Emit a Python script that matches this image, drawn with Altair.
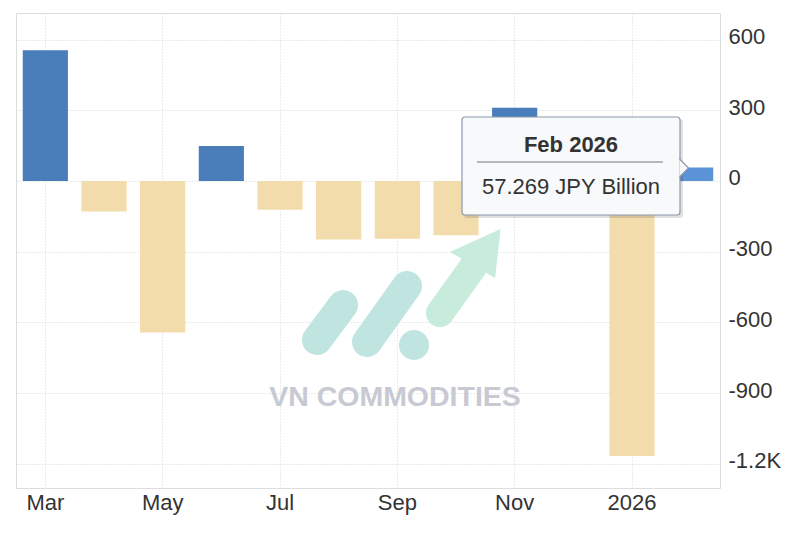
import altair as alt
import pandas as pd

# ---- data ----
months = ["Mar 2025", "Apr 2025", "May 2025", "Jun 2025", "Jul 2025", "Aug 2025",
          "Sep 2025", "Oct 2025", "Nov 2025", "Dec 2025", "Jan 2026", "Feb 2026"]
values = [555, -130, -643, 149, -122, -248, -245, -230, 311, 105.7, -1167, 57.269]
tick_months = ["Mar 2025", "May 2025", "Jul 2025", "Sep 2025", "Nov 2025", "Jan 2026"]
y_ticks = [-1200, -900, -600, -300, 0, 300, 600]
highlight = "Feb 2026"
unit = "JPY Billion"
watermark = "VN COMMODITIES"

df = pd.DataFrame({"month": months, "value": values})

W, H = 704, 475
FONT = "Liberation Sans"
TXT = "#333333"
GRID = "#d4d4d4"

x = alt.X(
    "month:N", sort=months,
    scale=alt.Scale(paddingInner=0.23, paddingOuter=0.115),
    axis=alt.Axis(values=tick_months,
                  labelExpr="datum.value == 'Jan 2026' ? '2026' : slice(datum.value, 0, 3)",
                  bandPosition=0.5, grid=True, gridDash=[1, 2], gridColor=GRID,
                  ticks=False, domainColor="#dddddd", labelFontSize=22, labelColor=TXT,
                  labelFont=FONT, labelPadding=4, labelAngle=0, title=None),
)
y = alt.Y(
    "value:Q",
    scale=alt.Scale(domain=[-1303, 713], nice=False, zero=False),
    axis=alt.Axis(orient="right", values=y_ticks,
                  labelExpr="datum.value <= -1000 ? '-' + (abs(datum.value)/1000) + 'K' : (datum.value < 0 ? '-' + abs(datum.value) : '' + datum.value)",
                  grid=True, gridDash=[1, 2], gridColor=GRID, ticks=False, domain=False,
                  labelFontSize=22, labelColor=TXT, labelFont=FONT, labelPadding=8,
                  labelOffset=-3, title=None),
)

one = alt.Data(values=[{}])

# ---- watermark ----
pill_a = alt.Chart(one).mark_rule(strokeCap="round", strokeWidth=30, color="#c0e4df").encode(
    x=alt.value(301), y=alt.value(327), x2=alt.value(327), y2=alt.value(292))
pill_b = alt.Chart(one).mark_rule(strokeCap="round", strokeWidth=30, color="#c0e4df").encode(
    x=alt.value(351), y=alt.value(329), x2=alt.value(391), y2=alt.value(273))
dot = alt.Chart(one).mark_point(shape="circle", filled=True, size=900, opacity=1, color="#c0e4df").encode(
    x=alt.value(398), y=alt.value(332))
shaft = alt.Chart(one).mark_rule(strokeCap="round", strokeWidth=28, color="#c7ecdc").encode(
    x=alt.value(424), y=alt.value(300), x2=alt.value(457), y2=alt.value(254))
head = alt.Chart(one).mark_point(shape="M0.58,-0.75L0.41,0.78L-1,-0.03Z", filled=True, size=4096,
                                 opacity=1, color="#c7ecdc").encode(
    x=alt.value(466), y=alt.value(240))
wm_text = alt.Chart(one).mark_text(text=watermark, font=FONT, fontSize=28.5, fontWeight="bold",
                                   color="#c7cad2").encode(x=alt.value(379), y=alt.value(384))

# ---- bars ----
bars = alt.Chart(df).transform_calculate(
    kind=f"datum.month == '{highlight}' ? 'hl' : (datum.value >= 0 ? 'pos' : 'neg')"
).mark_bar().encode(
    x=x, y=y, y2=alt.datum(0),
    color=alt.Color("kind:N", scale=alt.Scale(domain=["pos", "neg", "hl"],
                                              range=["#4a7ebb", "#f3dcab", "#5b93d8"]),
                    legend=None),
)

# ---- tooltip ----
shadow = alt.Chart(one).mark_rect(fill="#000000", opacity=0.12, cornerRadius=3).encode(
    x=alt.value(448), x2=alt.value(667), y=alt.value(106), y2=alt.value(205))
box = alt.Chart(one).mark_rect(fill="#f7f9fb", stroke="#8c99ab", strokeWidth=1.2, cornerRadius=3).encode(
    x=alt.value(446), x2=alt.value(664), y=alt.value(104), y2=alt.value(202))
pointer = alt.Chart(one).mark_point(shape="M0,-1L1,0L0,1", filled=False, fill="#f7f9fb",
                                    stroke="#8c99ab", strokeWidth=1.2, size=324, opacity=1).encode(
    x=alt.value(663.5), y=alt.value(155))
sep = alt.Chart(one).mark_rule(color="#777777", strokeWidth=1).encode(
    x=alt.value(461), x2=alt.value(647), y=alt.value(149))
hl = alt.Chart(df).transform_filter(f"datum.month == '{highlight}'").transform_calculate(
    label=f"datum.value + ' {unit}'")
t_title = hl.mark_text(font=FONT, fontSize=22, fontWeight="bold", color=TXT).encode(
    x=alt.value(555), y=alt.value(132), text="month:N")
t_value = hl.mark_text(font=FONT, fontSize=22, color=TXT).encode(
    x=alt.value(555), y=alt.value(174), text="label:N")

chart = alt.layer(
    pill_a, pill_b, dot, shaft, head, wm_text,
    bars,
    shadow, box, pointer, sep, t_title, t_value,
).properties(
    width=W, height=H,
    padding={"left": 8, "top": 5, "right": 5, "bottom": 5},
).configure_view(stroke="#e2e2e2").configure(background="white")

chart.save("out.html", embed_options={"renderer": "svg", "actions": False})
